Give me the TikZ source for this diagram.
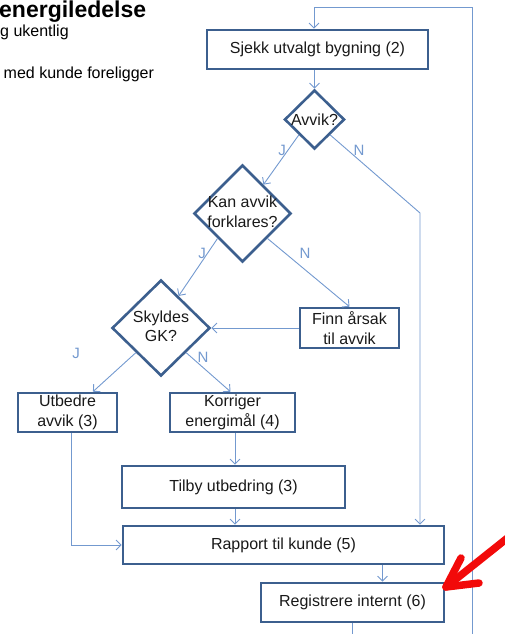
\documentclass[tikz,border=0pt]{standalone}
\usepackage{fontspec}
\setmainfont{Liberation Sans}
\usetikzlibrary{arrows.meta,shapes.geometric,calc}
\definecolor{boxblue}{HTML}{3C5F8E}
\definecolor{linkblue}{HTML}{7399CF}
\definecolor{alertred}{HTML}{F20A0A}
\tikzset{
  procbox/.style={draw=boxblue, line width=2.6pt, rectangle, inner sep=0pt,
    align=center, font=\fontsize{16}{19.5}\selectfont, text=black!90},
  decision/.style={draw=boxblue, line width=2.6pt, diamond, inner sep=0pt,
    align=center, font=\fontsize{16}{19.5}\selectfont, text=black!90},
  link/.style={draw=linkblue, line width=0.9pt},
  linkarr/.style={link, -{Straight Barb[length=5pt,width=10pt]}},
  answer/.style={text=linkblue, font=\fontsize{15}{15}\selectfont, inner sep=0pt},
  sidetext/.style={font=\fontsize{16}{19}\selectfont, inner sep=0pt, anchor=base west}
}
\begin{document}
\begin{tikzpicture}[x=1pt,y=-1pt]
\useasboundingbox (0,0) rectangle (504,634);

% heading and notes
\node[sidetext, font=\fontsize{23}{26}\selectfont\bfseries] (title) at (-1,18) {energiledelse};
\node[sidetext] (note1) at (0,37) {g ukentlig};
\node[sidetext] (note2) at (3.5,78) {med kunde foreligger};

% process steps
\node[procbox, minimum width=221pt, minimum height=39pt] (sjekk) at (317.5,49.5) {Sjekk utvalgt bygning (2)};
\node[decision, minimum width=60pt, minimum height=59pt] (avvik) at (314.5,119.5) {\makebox[0pt]{Avvik?}};
\node[decision, minimum width=97pt, minimum height=97pt] (kan) at (242.5,213.5) {\makebox[0pt]{\begin{tabular}{@{}c@{}}Kan avvik\\forklares?\end{tabular}}};
\node[decision, minimum width=98pt, minimum height=96pt] (sky) at (161,328) {\makebox[0pt]{\begin{tabular}{@{}c@{}}Skyldes\\GK?\end{tabular}}};
\node[procbox, minimum width=99pt, minimum height=40pt] (finn) at (349.5,328) {Finn årsak\\til avvik};
\node[procbox, minimum width=99pt, minimum height=39pt] (utb) at (67.5,412.5) {Utbedre\\avvik (3)};
\node[procbox, minimum width=125pt, minimum height=39pt] (kor) at (232.5,412.5) {Korriger\\energimål (4)};
\node[procbox, minimum width=223pt, minimum height=42pt] (tilby) at (233.5,487) {Tilby utbedring (3)};
\node[procbox, minimum width=321pt, minimum height=38pt] (rap) at (283.5,545) {Rapport til kunde (5)};
\node[procbox, minimum width=183pt, minimum height=39pt] (reg) at (352.5,602.5) {Registrere internt (6)};

% helper points for the connectors
\coordinate (loopbot) at (472,634);
\coordinate (looptop) at (314,7);
\coordinate (nbend) at (420,213);
\coordinate (regin) at ($(reg.north)+(30,0)$);
\coordinate (regout) at (352,634);
\coordinate (utbout) at ($(utb.south)+(4,0)$);
\coordinate (korout) at ($(kor.south)+(2.5,0)$);
\coordinate (tilbyout) at ($(tilby.south)+(1.5,0)$);

% connectors
\draw[linkarr] (loopbot) |- (looptop) -- (looptop |- sjekk.north);
\draw[linkarr] (sjekk.south -| avvik.north) -- (avvik.north);
\draw[linkarr] (avvik.south west) -- ($(kan.north)!0.42!(kan.east)$);
\draw[linkarr] (avvik.south east) -- (nbend) -- (nbend |- rap.north);
\draw[linkarr] (kan.south west) -- ($(sky.north)!0.35!(sky.east)$);
\draw[linkarr] (kan.south east) -- (finn.north);
\draw[linkarr] (finn.west) -- (sky.east);
\draw[linkarr] (sky.south west) -- ($(utb.north west)!0.75!(utb.north east)$);
\draw[linkarr] (sky.south east) -- ($(kor.north)+(-2,0)$);
\draw[linkarr] (korout) -- (korout |- tilby.north);
\draw[linkarr] (tilbyout) -- (tilbyout |- rap.north);
\draw[linkarr] (utbout) |- (rap.west);
\draw[linkarr] (regin |- rap.south) -- (regin);
\draw[link] (reg.south -| regout) -- (regout);

% answer labels
\node[answer] (j1) at (282,150) {J};
\node[answer] (n1) at (359,150) {N};
\node[answer] (j2) at (202,253) {J};
\node[answer] (n2) at (305,253) {N};
\node[answer] (j3) at (76,353) {J};
\node[answer] (n3) at (203,357) {N};

% red pointer
\coordinate (tip) at (446,587);
\coordinate (tail) at (510,536);
\draw[alertred, line width=7.5pt, line cap=round, line join=round] (tail) -- (tip);
\draw[alertred, line width=7.5pt, line cap=round, line join=round] (461,558) -- (tip) -- (479,583);
\end{tikzpicture}
\end{document}
